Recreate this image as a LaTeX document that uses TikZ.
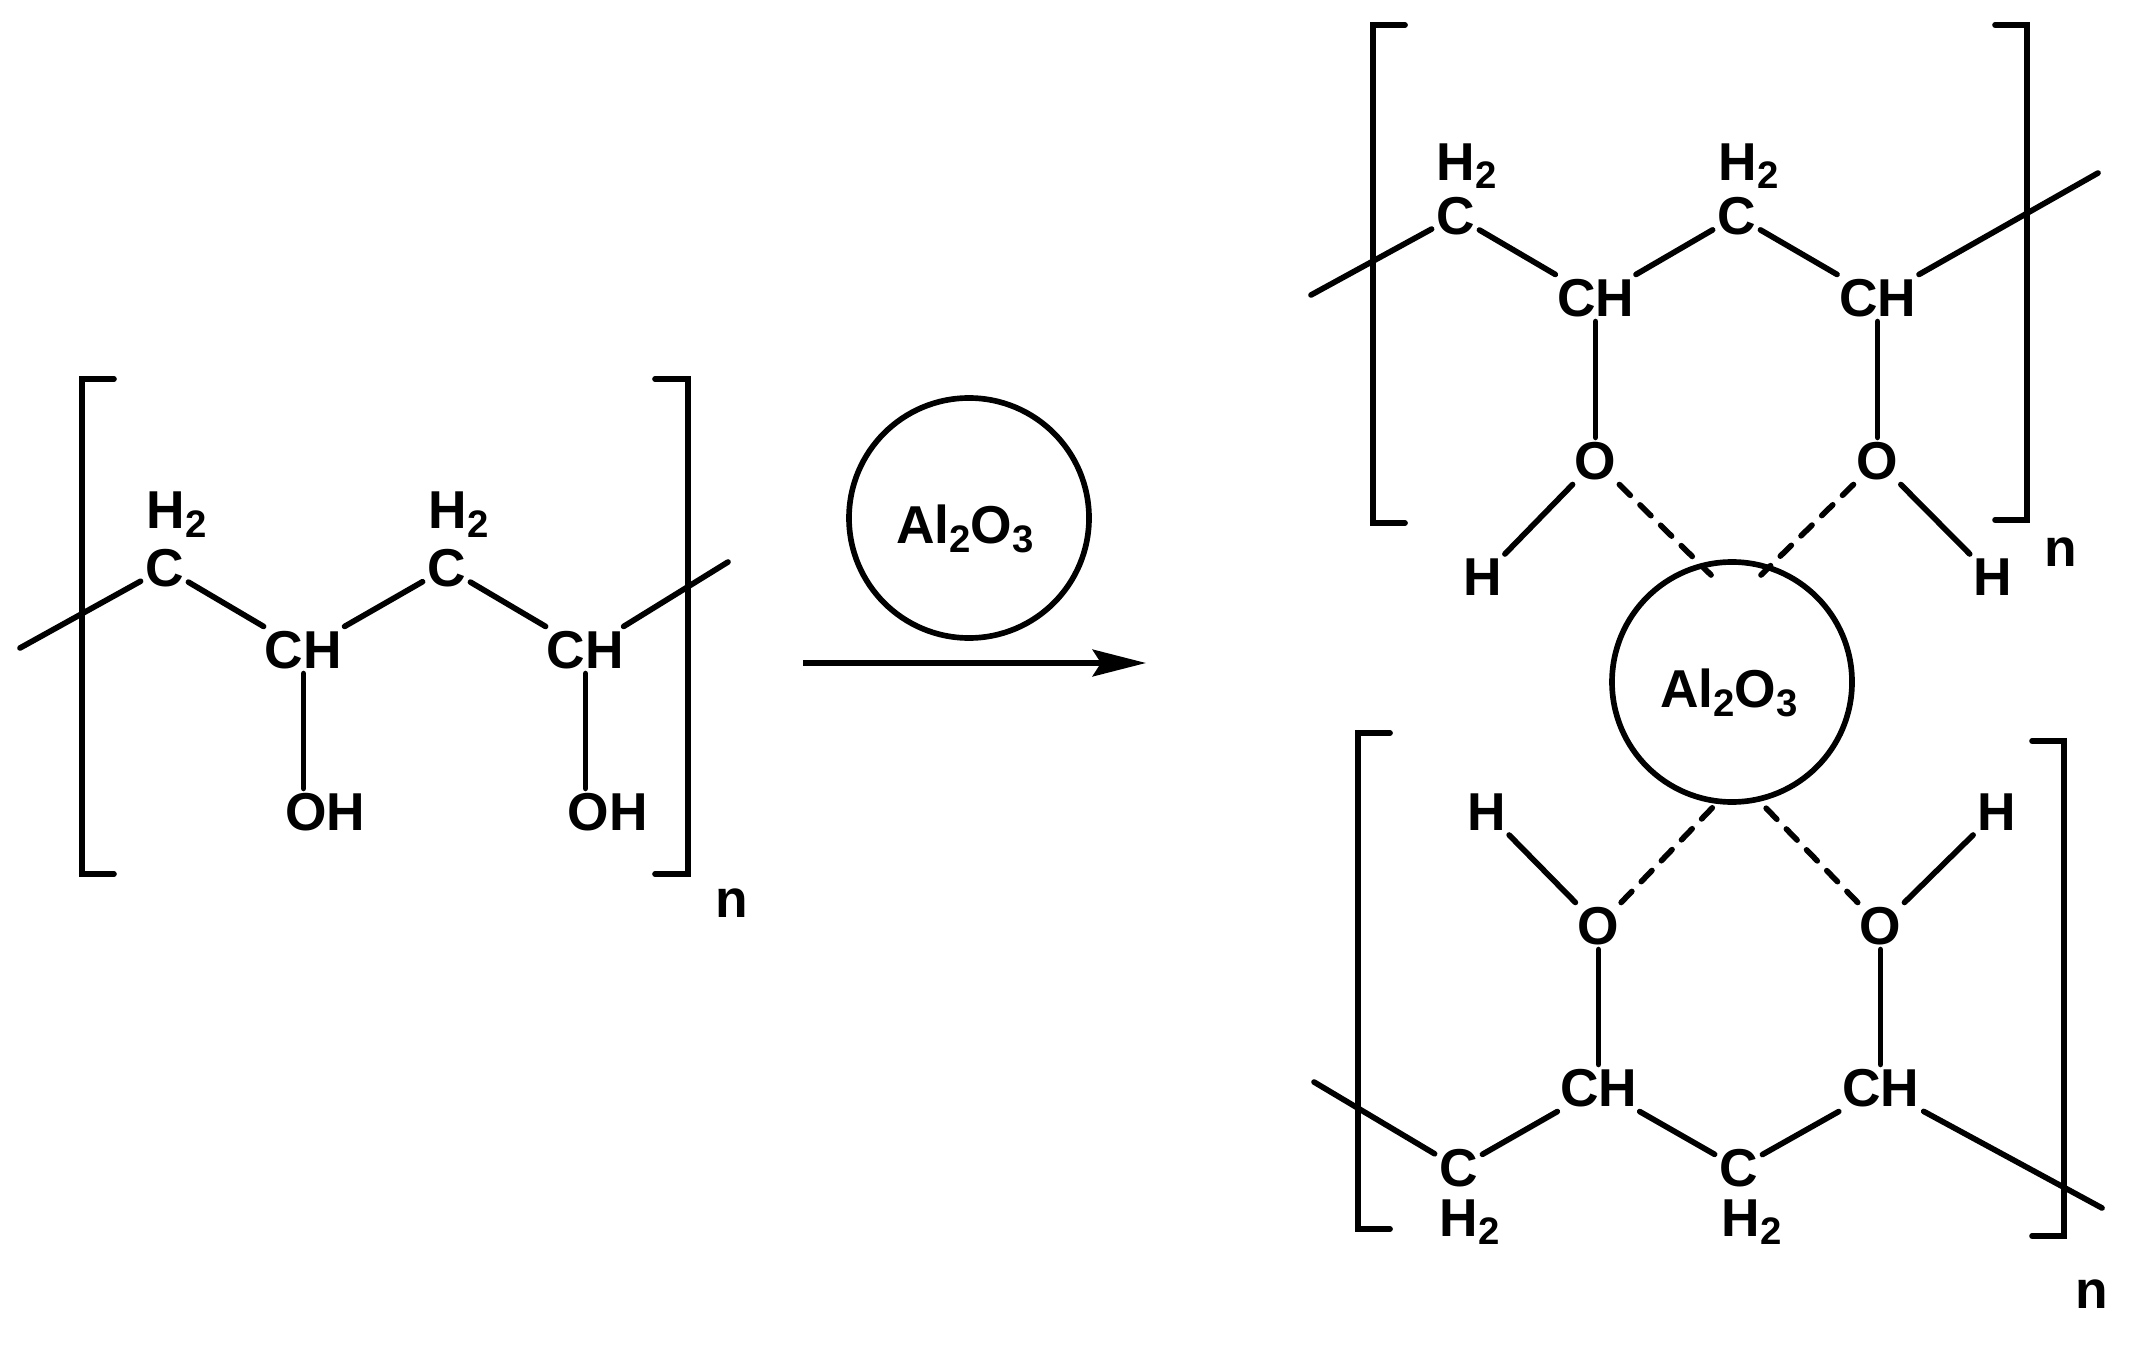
\documentclass[tikz,border=0pt]{standalone}
\usepackage{fontspec}
\setmainfont{Liberation Sans}
\usepackage{tikz}
\usetikzlibrary{arrows.meta, positioning}
\tikzset{
    textnode/.style = {draw=none, fill=none, rectangle, inner sep = 0.12em, node distance=0em,
      font=\fontsize{16}{19}\selectfont\bfseries},
    circlenode/.style = {circle, draw, line width=1.7pt, inner sep = 0em, node distance=0em,
      minimum size=7.2em},
    bond/.style = {black, line width=1.7pt, line cap=round},
    hbond/.style = {bond, dash pattern=on 4.6pt off 4.1pt},
    bracket/.style = {bond, line join=miter},
    connect/.style = {black, line width=1.7pt, -{Stealth[length=16pt, width=8pt, inset=2.5pt]}}
}
\newcommand{\subs}[1]{\raisebox{-0.3ex}{\fontsize{11.5}{13}\selectfont #1}}

\begin{document}
\begin{tikzpicture}[x=0.3pt, y=-0.3pt]
    \useasboundingbox (0,0) rectangle (2135,1348);

    % left chain
    \node [name=c1, textnode] at (164.5,568) {C};
    \node [name=ch1, textnode, right of = c1, xshift=4.17em, yshift=-2.46em] {CH};
    \node [name=c2, textnode, right of = c1, xshift=8.46em] {C};
    \node [name=ch2, textnode, right of = c1, xshift=12.63em, yshift=-2.46em] {CH};
    \node [name=h21, textnode, above of = c1, xshift=0.36em, yshift=1.6em] {H\subs{2}};
    \node [name=h22, textnode, above of = c2, xshift=0.36em, yshift=1.6em] {H\subs{2}};
    \node [name=oh1, textnode, below of = ch1, xshift=0.66em, yshift=-4.86em] {OH};
    \node [name=oh2, textnode, below of = ch2, xshift=0.66em, yshift=-4.86em] {OH};
    \node [name=n1, textnode, right of = ch2, xshift=4.38em, yshift=-7.6em] {n};
    \coordinate (start1) at (20,648);
    \coordinate (end1) at (728,562);
    \draw [bond] (start1) -- (c1) -- (ch1) -- (c2) -- (ch2) -- (end1);
    \draw [bond] (ch1) -- (ch1 |- oh1.north);
    \draw [bond] (ch2) -- (ch2 |- oh2.north);
    \draw [bracket] (114,379) -- (82,379) -- (82,874) -- (114,874);
    \draw [bracket] (655,379) -- (688,379) -- (688,874) -- (655,874);

    % alumina and arrow
    \node [name=al1, circlenode] at (969,518) {};
    \node [name=alt1, textnode, below of = al1, xshift=-0.12em, yshift=-0.33em] {Al\subs{2}O\subs{3}};
    \coordinate (arrowstart) at (803,663);
    \coordinate (arrowend) at (1146,663);
    \draw [connect] (arrowstart) -- (arrowend);

    % top right chain
    \node [name=c3, textnode] at (1455.5,216) {C};
    \node [name=ch3, textnode, right of = c3, xshift=4.2em, yshift=-2.46em] {CH};
    \node [name=c4, textnode, right of = c3, xshift=8.43em] {C};
    \node [name=ch4, textnode, right of = c3, xshift=12.66em, yshift=-2.46em] {CH};
    \node [name=h23, textnode, above of = c3, xshift=0.33em, yshift=1.5em] {H\subs{2}};
    \node [name=h24, textnode, above of = c4, xshift=0.36em, yshift=1.5em] {H\subs{2}};
    \node [name=o1, textnode, below of = ch3, yshift=-4.89em] {O};
    \node [name=o2, textnode, below of = ch4, yshift=-4.89em] {O};
    \node [name=h1, textnode, left of = o1, xshift=-3.39em, yshift=-3.48em] {H};
    \node [name=h2, textnode, right of = o2, xshift=3.45em, yshift=-3.48em] {H};
    \node [name=n2, textnode, right of = ch4, xshift=5.49em, yshift=-7.62em] {n};
    \coordinate (start2) at (1311,295);
    \coordinate (end2) at (2098,173);
    \draw [bond] (start2) -- (c3) -- (ch3) -- (c4) -- (ch4) -- (end2);
    \draw [bond] (ch3) -- (o1);
    \draw [bond] (ch4) -- (o2);
    \draw [bond] (o1) -- (h1);
    \draw [bond] (o2) -- (h2);
    \draw [bracket] (1405,25) -- (1373,25) -- (1373,523) -- (1405,523);
    \draw [bracket] (1995,25) -- (2027,25) -- (2027,520) -- (1995,520);

    % alumina between the chains
    \node [name=al2, circlenode] at (1732,682) {};
    \node [name=alt2, textnode, below of = al2, xshift=-0.09em, yshift=-0.33em] {Al\subs{2}O\subs{3}};
    \coordinate (hb1) at (1711,575);
    \coordinate (hb2) at (1761,575);
    \coordinate (hb3) at (1715,805);
    \coordinate (hb4) at (1763,805);
    \draw [hbond] (o1) -- (hb1);
    \draw [hbond] (o2) -- (hb2);

    % bottom right chain
    \node [name=c5, textnode] at (1458.5,1168) {C};
    \node [name=ch5, textnode, right of = c5, xshift=4.2em, yshift=2.4em] {CH};
    \node [name=c6, textnode, right of = c5, xshift=8.4em] {C};
    \node [name=ch6, textnode, right of = c5, xshift=12.66em, yshift=2.4em] {CH};
    \node [name=h25, textnode, below of = c5, xshift=0.33em, yshift=-1.62em] {H\subs{2}};
    \node [name=h26, textnode, below of = c6, xshift=0.39em, yshift=-1.62em] {H\subs{2}};
    \node [name=o3, textnode, above of = ch5, yshift=4.86em] {O};
    \node [name=o4, textnode, above of = ch6, yshift=4.86em] {O};
    \node [name=h3, textnode, left of = o3, xshift=-3.36em, yshift=3.42em] {H};
    \node [name=h4, textnode, right of = o4, xshift=3.48em, yshift=3.42em] {H};
    \node [name=n3, textnode, right of = ch6, xshift=6.33em, yshift=-6.18em] {n};
    \coordinate (start3) at (1314,1082);
    \coordinate (end3) at (2102,1208);
    \draw [bond] (start3) -- (c5) -- (ch5) -- (c6) -- (ch6) -- (end3);
    \draw [bond] (ch5) -- (o3);
    \draw [bond] (ch6) -- (o4);
    \draw [bond] (o3) -- (h3);
    \draw [bond] (o4) -- (h4);
    \draw [hbond] (o3) -- (hb3);
    \draw [hbond] (o4) -- (hb4);
    \draw [bracket] (1390,733) -- (1358,733) -- (1358,1229) -- (1390,1229);
    \draw [bracket] (2032,741) -- (2064,741) -- (2064,1236) -- (2032,1236);
\end{tikzpicture}
\end{document}
